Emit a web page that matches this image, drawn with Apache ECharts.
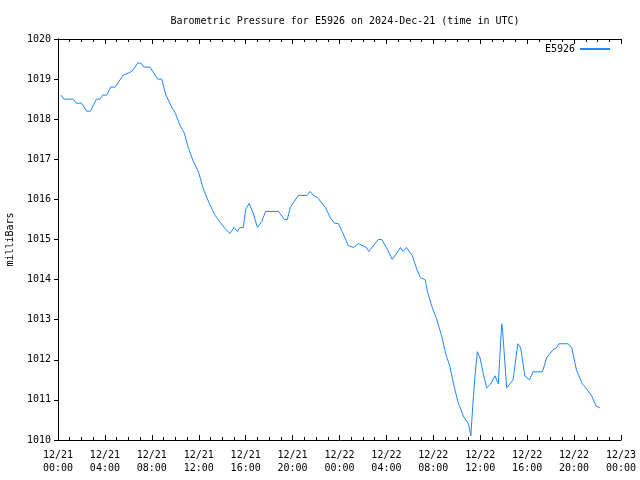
<!DOCTYPE html>
<html><head><meta charset="utf-8">
<script src="https://cdn.jsdelivr.net/npm/echarts@6/dist/echarts.min.js"></script>
<style>html,body{margin:0;padding:0;background:#fff}#c{width:640px;height:480px}</style>
</head><body><div id="c"></div>
<script>
// hours since 2024-12-21 00:00 UTC
const hours = [0.26,0.5,1.3,1.56,2.0,2.45,2.76,3.27,3.58,3.8,4.15,4.5,4.86,5.57,6.0,6.33,6.8,7.07,7.3,7.84,8.5,8.84,9.2,9.7,10.0,10.4,10.77,11.1,11.53,11.96,12.4,12.9,13.4,13.9,14.3,14.66,15.0,15.3,15.5,15.8,16.0,16.3,16.65,17.0,17.37,17.7,18.8,19.3,19.55,19.8,20.5,21.25,21.5,21.77,22.1,22.8,23.2,23.6,23.9,24.3,24.75,25.2,25.6,26.3,26.5,27.3,27.6,28.0,28.5,29.2,29.4,29.7,30.2,30.6,30.9,31.3,31.5,31.85,32.3,32.7,33.1,33.4,33.76,34.1,34.55,35.0,35.2,35.35,35.55,35.75,35.98,36.26,36.55,36.9,37.25,37.54,37.68,37.83,37.9,38.25,38.8,39.2,39.45,39.8,40.2,40.5,41.3,41.66,42.2,42.5,42.7,43.5,43.8,44.2,44.7,45.0,45.5,45.87,46.2];
const pressure = [1018.6,1018.5,1018.5,1018.4,1018.4,1018.2,1018.2,1018.5,1018.5,1018.6,1018.6,1018.8,1018.8,1019.1,1019.15,1019.2,1019.4,1019.4,1019.3,1019.3,1019.0,1019.0,1018.6,1018.3,1018.15,1017.85,1017.65,1017.3,1016.95,1016.7,1016.25,1015.9,1015.6,1015.4,1015.25,1015.15,1015.3,1015.2,1015.3,1015.3,1015.75,1015.9,1015.65,1015.3,1015.45,1015.7,1015.7,1015.5,1015.5,1015.8,1016.1,1016.1,1016.2,1016.1,1016.05,1015.8,1015.55,1015.4,1015.4,1015.15,1014.85,1014.8,1014.9,1014.8,1014.7,1015.0,1015.0,1014.8,1014.5,1014.8,1014.7,1014.8,1014.6,1014.25,1014.05,1014.0,1013.7,1013.35,1013.0,1012.6,1012.1,1011.85,1011.35,1010.95,1010.6,1010.4,1010.1,1010.8,1011.6,1012.2,1012.05,1011.65,1011.3,1011.4,1011.6,1011.4,1012.15,1012.9,1012.75,1011.3,1011.5,1012.4,1012.3,1011.6,1011.5,1011.7,1011.7,1012.05,1012.25,1012.3,1012.4,1012.4,1012.3,1011.75,1011.4,1011.3,1011.1,1010.85,1010.8];
const seriesName = 'E5926';
const titleText = 'Barometric Pressure for E5926 on 2024-Dec-21 (time in UTC)';
const yName = 'milliBars';

const FONT = 'DejaVu Sans Mono';
const pad2 = n => (n < 10 ? '0' : '') + n;
const fmtX = v => { const d = 21 + Math.floor(v / 24); const h = v % 24; return '12/' + d + '\n' + pad2(h) + ':00'; };
const data = hours.map((h, i) => [h, pressure[i]]);
const txt = {color: '#000', fontFamily: FONT, fontSize: 10};
const axLine = {show: true, lineStyle: {color: '#000', width: 1}};

const chart = echarts.init(document.getElementById('c'), null, {renderer: 'canvas'});
chart.setOption({
  animation: false,
  backgroundColor: '#fff',
  title: {text: titleText, left: 340, textAlign: 'center', top: 11, textStyle: Object.assign({fontWeight: 'normal'}, txt)},
  legend: {right: 25, top: 39, align: 'right', itemWidth: 30, itemHeight: 2, itemGap: 0,
    icon: 'rect', textStyle: txt, data: [seriesName]},
  grid: {left: 58, right: 19, top: 39, bottom: 40, containLabel: false, outerBoundsMode: 'none'},
  xAxis: [
    {type: 'value', min: 0, max: 48, interval: 4, position: 'bottom',
      axisLine: axLine, axisTick: {show: true, inside: true, length: 5, lineStyle: {color: '#000'}},
      minorTick: {show: true, splitNumber: 4, length: 3, lineStyle: {color: '#000'}},
      splitLine: {show: false},
      axisLabel: Object.assign({formatter: fmtX, margin: 9, lineHeight: 13}, txt)},
    {type: 'value', min: 0, max: 48, interval: 4, position: 'top',
      axisLine: axLine, axisTick: {show: true, inside: true, length: 5, lineStyle: {color: '#000'}},
      minorTick: {show: true, splitNumber: 4, length: 3, lineStyle: {color: '#000'}},
      splitLine: {show: false}, axisLabel: {show: false}}
  ],
  yAxis: [
    {type: 'value', min: 1010, max: 1020, interval: 1, position: 'left',
      name: yName, nameLocation: 'middle', nameGap: 43, nameRotate: 90, nameTextStyle: txt,
      axisLine: axLine, axisTick: {show: true, inside: false, length: 4, lineStyle: {color: '#000', width: 1}},
      splitLine: {show: false},
      axisLabel: Object.assign({margin: 7, formatter: v => String(v)}, txt)},
    {type: 'value', min: 1010, max: 1020, interval: 1, position: 'right',
      axisLine: axLine, axisTick: {show: true, inside: true, length: 4, lineStyle: {color: '#000'}},
      splitLine: {show: false}, axisLabel: {show: false}}
  ],
  series: [{
    name: seriesName, type: 'line', data: data, xAxisIndex: 0, yAxisIndex: 0,
    showSymbol: false, symbol: 'none',
    lineStyle: {color: '#1E88FF', width: 1}, itemStyle: {color: '#1E88FF'}
  }]
});
</script></body></html>
